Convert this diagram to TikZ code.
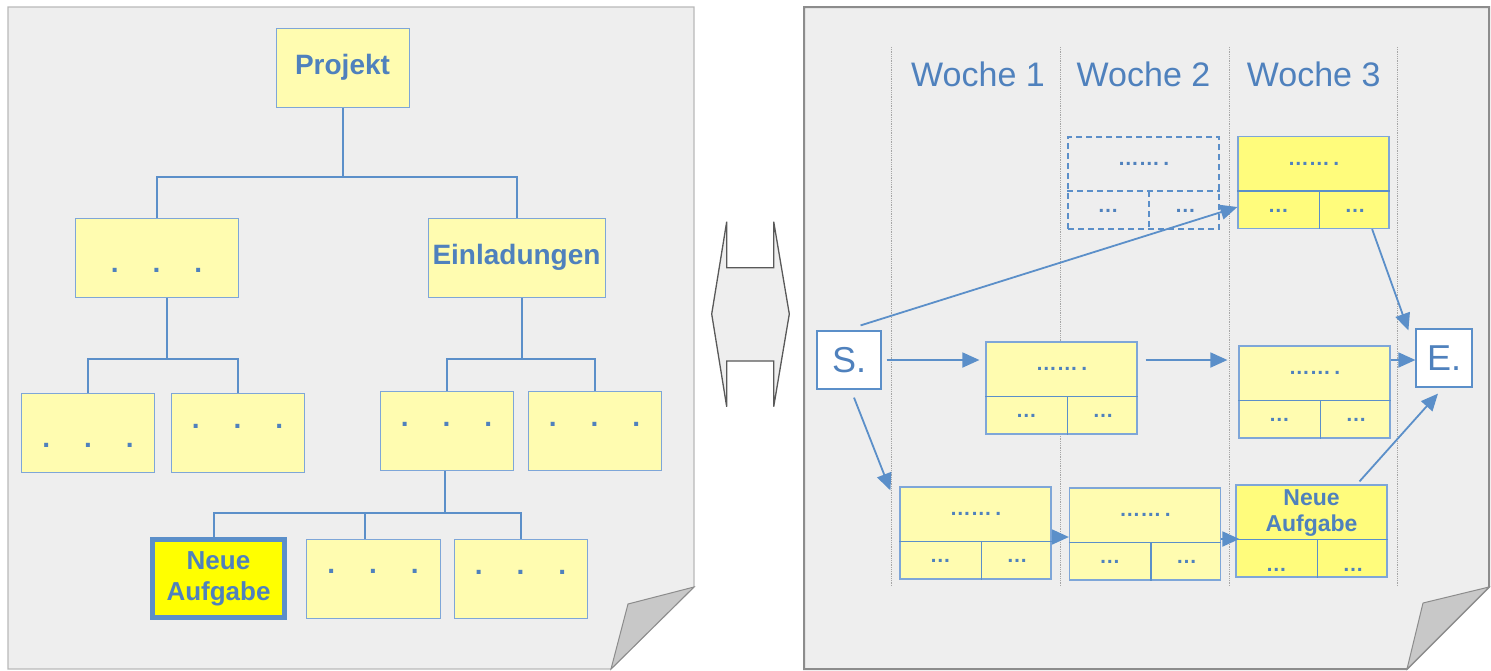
\documentclass[tikz,border=0pt]{standalone}
\usepackage{fontspec}
\setmainfont{Liberation Sans}
\usepackage{tikz}
\usetikzlibrary{arrows.meta,calc,positioning}

\definecolor{pagegray}{HTML}{EEEEEE}
\definecolor{foldgray}{HTML}{C8C8C8}
\definecolor{edgegray}{HTML}{8C8C8C}
\definecolor{paleyel}{HTML}{FFFCB0}
\definecolor{brightyel}{HTML}{FFFC7C}
\definecolor{fullyel}{HTML}{FFFF00}
\definecolor{textblue}{HTML}{4F81BD}
\definecolor{lineblue}{HTML}{5B8FC9}
\definecolor{boxblue}{HTML}{7EA6D8}

\tikzset{
	treebox/.style={draw=boxblue, line width=1pt, fill=paleyel, inner sep=0pt, minimum height=79pt, text=textblue, font=\fontsize{28}{30}\selectfont\bfseries},
	treedots/.style={inner sep=0pt, text=textblue, font=\fontsize{28}{30}\selectfont\bfseries},
	treeline/.style={draw=lineblue, line width=2pt},
	taskbox/.style={draw=boxblue, line width=1.2pt, inner sep=0pt, minimum width=151pt, minimum height=92pt},
	taskline/.style={draw=lineblue, line width=1.8pt},
	tasklight/.style={fill=paleyel},
	taskfull/.style={fill=brightyel},
	planned/.style={draw=lineblue, dash pattern=on 6pt off 4pt, line width=1.8pt},
	taskdots/.style={inner sep=0pt, text=textblue, font=\fontsize{21}{23}\selectfont\bfseries},
	endbox/.style={draw=lineblue, line width=1.2pt, fill=white, inner sep=0pt, minimum height=58pt, text=textblue, font=\fontsize{36}{38}\selectfont},
	week/.style={text=textblue, font=\fontsize{34}{40}\selectfont},
	weekline/.style={draw=gray!70, densely dotted, line width=0.8pt},
	flow/.style={draw=lineblue, line width=1.8pt, -{Triangle[length=17pt,width=15pt]}}
}

\begin{document}
\begin{tikzpicture}[x=1pt, y=-1pt]
	\fill[white] (0,0) rectangle (1491,670);
	\useasboundingbox (0,0) rectangle (1491,670);

	% pages
	\filldraw[fill=pagegray, draw=gray!55, line width=1.2pt] (8,7) -- (694,7) -- (694,587) -- (611,669) -- (8,669) -- cycle;
	\filldraw[fill=foldgray, draw=edgegray, line width=1pt] (694,587) -- (628,604) -- (611,669) -- cycle;
	\filldraw[fill=pagegray, draw=edgegray, line width=2pt] (804,7) -- (1489,7) -- (1489,587) -- (1407,669) -- (804,669) -- cycle;
	\filldraw[fill=foldgray, draw=edgegray, line width=1pt] (1489,587) -- (1423,603) -- (1407,669) -- cycle;

	\filldraw[fill=pagegray, draw=black!65, line width=1.3pt] (726.7,221.7) -- (726.7,267.7) -- (773.7,267.7) -- (773.7,221.7) -- (789.3,314) -- (773.7,406.7) -- (773.7,361) -- (726.7,361) -- (726.7,406.7) -- (711.7,314) -- cycle;

	% tree
	\node[treebox, minimum width=133pt] (proj) at (342.5,67.5) {Projekt};
	\node[treebox, minimum width=177pt] (einl) at (516.5,257.5) {Einladungen};
	\foreach \n/\x/\y/\w/\d in {l2a/156.5/257.5/163/13, l3a/88/432.5/133/13, l3b/237.5/433/133/-7, l3c/446.5/431/133/-7, l3d/594.5/431/133/-7, l4b/373/578.5/134/-7, l4c/520.5/578.5/133/-6}
	{
		\node[treebox, minimum width=\w pt] (\n) at (\x,\y) {};
		\node[treedots] (\n-d) at (\x,\y+\d) {.\hspace{34pt}.\hspace{34pt}.};
	}
	\node[treebox, fill=fullyel, draw=lineblue, line width=5pt, minimum width=132pt, minimum height=78pt, align=center, font=\fontsize{26}{31}\selectfont\bfseries] (neu) at (218.5,578.5) {Neue\\Aufgabe};

	\draw[treeline] (proj.south) -- ++(0,69) coordinate (j1);
	\draw[treeline] (l2a.north) |- (j1) -| (einl.north);
	\draw[treeline] ([xshift=10pt]l2a.south) -- ++(0,61) coordinate (j2);
	\draw[treeline] (l3a.north) |- (j2) -| (l3b.north);
	\draw[treeline] ([xshift=5pt]einl.south) -- ++(0,61) coordinate (j3);
	\draw[treeline] (l3c.north) |- (j3) -| (l3d.north);
	\draw[treeline] ([xshift=-2pt]l3c.south) -- ++(0,42) coordinate (j4);
	\draw[treeline] ([xshift=-5pt]neu.north) |- (j4) -| (l4c.north);
	\draw[treeline] ([xshift=-8pt]l4b.north) -- ([xshift=-8pt]l4b.north |- j4);

	% weeks
	\foreach \x in {891,1060,1229,1397.5}
	\draw[weekline] (\x,47) -- (\x,586);
	\foreach \i/\x in {1/978,2/1143.5,3/1313.7}
	\node[week] (wk\i) at (\x,74) {Woche \i};

	\foreach \n/\x/\y/\s in {plan/1143.5/183/planned, top3/1313.5/182.5/taskfull, mid1/1061.5/388/tasklight, mid3/1314.5/392/tasklight, low1/975.5/533/tasklight, low2/1145/534/tasklight}
	{
		\node[taskbox,\s] (\n) at (\x,\y) {};
		\draw[taskline,\s] ([yshift=-55pt]\n.north west) -- ([yshift=-55pt]\n.north east);
		\draw[taskline,\s] ([xshift=82pt,yshift=-55pt]\n.north west) -- ([xshift=82pt]\n.south west);
		\node[taskdots] (\n-t) at ([yshift=-28pt]\n.north) {……\,.};
		\node[taskdots] (\n-a) at ([xshift=41pt,yshift=18.5pt]\n.south west) {…};
		\node[taskdots] (\n-b) at ([xshift=-34.5pt,yshift=18.5pt]\n.south east) {…};
	}
	\node[taskbox,taskfull] (neur) at (1311.5,531) {};
	\draw[taskline] ([yshift=-55pt]neur.north west) -- ([yshift=-55pt]neur.north east);
	\draw[taskline] ([xshift=82pt,yshift=-55pt]neur.north west) -- ([xshift=82pt]neur.south west);
	\node[taskdots, align=center, font=\fontsize{23}{26}\selectfont\bfseries] (neur-t) at ([yshift=-29pt]neur.north) {Neue\\Aufgabe};
	\node[taskdots] (neur-a) at ([xshift=41pt,yshift=8pt]neur.south west) {…};
	\node[taskdots] (neur-b) at ([xshift=-34.5pt,yshift=8pt]neur.south east) {…};

	\node[endbox, minimum width=64pt] (s) at (849,360) {S.};
	\node[endbox, minimum width=56pt] (e) at (1444,358) {E.};

	\draw[flow] ([xshift=-21pt,yshift=5pt]s.north east) -- ([yshift=-24.5pt]top3.west);
	\draw[flow, shorten <=5pt, shorten >=6pt] (s.east) -- (s.east -| mid1.west);
	\draw[flow, shorten <=8pt, shorten >=11pt] (s.east -| mid1.east) -- (s.east -| mid3.west);
	\draw[flow] (s.east -| mid3.east) -- (s.east -| e.west);
	\draw[flow] ([xshift=-17.5pt]top3.south east) -- ([xshift=-7pt,yshift=-2pt]e.north west);
	\draw[flow] ([xshift=5pt,yshift=-8pt]s.south) -- ([xshift=-9pt,yshift=-4pt]low1.north west);
	\draw[flow] ([yshift=-4pt]low1.east) -- ([yshift=-4pt]low1.east -| low2.west);
	\draw[flow, shorten >=-4pt] ([yshift=-5pt]low2.east) -- ([yshift=-5pt]low2.east -| neur.west);
	\draw[flow] ([xshift=48pt,yshift=3pt]neur.north) -- ([xshift=-6pt,yshift=-6pt]e.south);
\end{tikzpicture}
\end{document}
